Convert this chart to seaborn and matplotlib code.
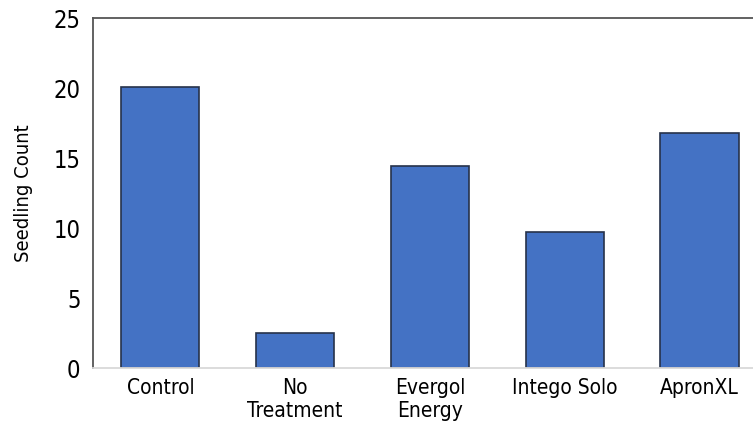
import matplotlib
matplotlib.use("Agg")
import matplotlib.pyplot as plt
import seaborn as sns
import pandas as pd

# chart data
treatments = ["Control", "No\nTreatment", "Evergol\nEnergy", "Intego Solo", "ApronXL"]
seedling_counts = [20.1, 2.5, 14.4, 9.7, 16.8]
y_ticks = [0, 5, 10, 15, 20, 25]

sns.set_style("white")
plt.rcParams['font.family'] = ['DejaVu Sans']
plt.rcParams['font.stretch'] = 'condensed'

df = pd.DataFrame({"Treatment": treatments, "Count": seedling_counts})

fig = plt.figure(figsize=(7.53, 4.47), dpi=100)
ax = fig.add_axes([0.1235, 0.1767, 0.895, 0.783])

sns.barplot(data=df, x="Treatment", y="Count", color="#4472C4", saturation=1,
            width=0.58, edgecolor="#26324A", linewidth=1.2, ax=ax)

ax.set_xlim(-0.5, 4.5)
ax.set_ylim(0, 25)
ax.set_yticks(y_ticks)
ax.set_yticklabels([str(t) for t in y_ticks], fontsize=17)
ax.set_xticks(range(len(treatments)))
ax.set_xticklabels(treatments, fontsize=15, linespacing=1.2)
ax.set_xlabel("")
ax.set_ylabel("Seedling Count", fontsize=14.5, labelpad=15, color="black")
ax.tick_params(axis='x', length=0, pad=7, colors="black")
ax.tick_params(axis='y', length=0, pad=9, colors="black")

for side in ["top", "left"]:
    ax.spines[side].set_color("#555555")
    ax.spines[side].set_linewidth(1.3)
ax.spines["right"].set_visible(False)
ax.spines["bottom"].set_color("#D9D9D9")
ax.spines["bottom"].set_linewidth(1.3)

fig.savefig("out.png", dpi=100)
